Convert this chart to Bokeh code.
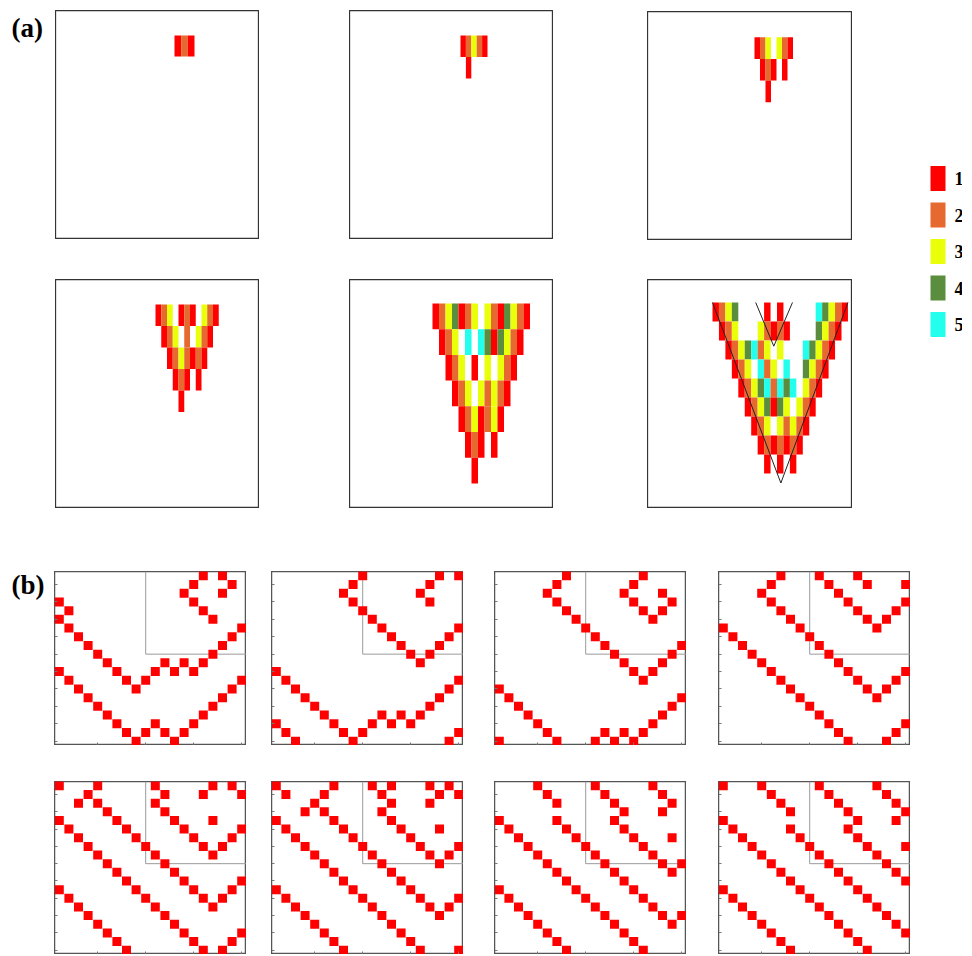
from bokeh.plotting import figure
from bokeh.models import Range1d, Spacer, FixedTicker
from bokeh.layouts import row, column
from bokeh.embed import file_html
from bokeh.resources import INLINE
from bokeh.core.properties import value

# ---------------- data ----------------
state_colors = ["#FF0000", "#E6692F", "#EAFF0A", "#5B8D3F", "#22FFEC"]
legend_labels = ["1", "2", "3", "4", "5"]

# (a) panels: row r starts at cell index r; 0 = empty
a1_rows = [[1, 2, 1]]
a2_rows = [[1, 2, 3, 2, 1], [1, 0, 0]]
a3_rows = [[1, 2, 3, 0, 3, 2, 1], [1, 2, 1, 0, 1], [1, 0, 0]]
a4_rows = [[1, 2, 3, 0, 1, 2, 1, 0, 3, 2, 1],
           [1, 2, 3, 0, 2, 0, 3, 2, 1],
           [1, 2, 3, 2, 1, 2, 1],
           [1, 2, 1, 0, 1],
           [1, 0, 0]]
a5_rows = [[1, 2, 3, 4, 1, 2, 3, 0, 3, 2, 1, 4, 3, 2, 1],
           [1, 2, 3, 0, 5, 0, 5, 4, 1, 4, 3, 2, 1],
           [1, 2, 3, 0, 1, 0, 3, 0, 3, 2, 1],
           [1, 2, 3, 0, 3, 2, 3, 2, 1],
           [1, 2, 3, 1, 2, 3, 1],
           [1, 2, 1, 0, 1],
           [1, 0, 0]]
a6_rows = [[1, 2, 3, 4, 0, 0, 0, 0, 1, 0, 1, 0, 0, 0, 0, 0, 5, 4, 3, 2, 1],
           [1, 2, 3, 0, 0, 0, 3, 2, 1, 2, 1, 0, 0, 0, 0, 4, 3, 2, 1],
           [1, 2, 3, 4, 5, 2, 3, 0, 3, 0, 0, 0, 5, 4, 3, 2, 1],
           [1, 2, 3, 0, 5, 2, 3, 0, 5, 0, 0, 4, 3, 2, 1],
           [1, 2, 3, 4, 5, 2, 5, 4, 5, 0, 3, 2, 1],
           [1, 2, 3, 4, 1, 4, 3, 0, 3, 2, 1],
           [1, 2, 3, 0, 3, 2, 3, 2, 1],
           [1, 2, 1, 2, 1, 2, 1],
           [1, 0, 1, 0, 1]]
# light-cone lines on the last (a) panel (cell units)
cone_big_x = [0.0, 10.6, 21.0]
cone_big_y = [0.0, 9.5, 0.0]
cone_small_x = [6.7, 9.5, 12.4]
cone_small_y = [0.0, 2.3, 0.0]

# (b) panels: occupied sites (column, row) on a 20 x 20 lattice
b1_sites = [(15,0),(17,0),(14,1),(18,1),(13,2),(17,2),(14,3),(15,4),(16,5),
            (0,3),(1,4),(0,5),(1,6),(2,7),(3,8),(4,9),(5,10),(6,11),(7,12),(8,13),(9,12),(10,11),
            (11,10),(12,11),(13,10),(14,11),(15,10),(16,9),(17,8),(18,7),(19,6),
            (0,11),(1,12),(2,13),(3,14),(4,15),(5,16),(6,17),(7,18),(8,19),(9,18),(10,17),(11,18),
            (12,19),(13,18),(14,17),(15,16),(16,15),(17,14),(18,13),(19,12)]
b2_sites = [(9,0),(17,0),(19,0),(8,1),(16,1),(7,2),(15,2),(8,3),(16,3),(9,4),(10,5),(11,6),(12,7),
            (13,8),(14,9),(15,10),(16,9),(17,8),(18,7),(19,6),
            (0,11),(1,12),(2,13),(3,14),(4,15),(5,16),(6,17),(7,18),(8,19),(9,18),(10,17),(11,16),
            (12,17),(13,16),(14,17),(15,16),(16,15),(17,14),(18,13),(19,12),
            (0,17),(1,18),(2,19),(18,19),(19,18)]
b3_sites = [(7,0),(15,0),(6,1),(14,1),(5,2),(13,2),(17,2),(6,3),(14,3),(18,3),(7,4),(15,4),(17,4),
            (8,5),(16,5),(9,6),(10,7),(11,8),(19,8),(12,9),(18,9),(13,10),(17,10),(14,11),(16,11),(15,12),
            (0,13),(1,14),(2,15),(3,16),(4,17),(5,18),(6,19),(0,19),
            (10,19),(11,18),(12,19),(13,18),(14,19),(15,18),(16,17),(17,16),(18,15),(19,14)]
b4_sites = [(6,0),(10,0),(14,0),(5,1),(11,1),(15,1),(19,1),(4,2),(12,2),(5,3),(13,3),(19,3),(6,4),
            (14,4),(18,4),(7,5),(15,5),(17,5),(8,6),(16,6),
            (0,6),(1,7),(2,8),(3,9),(4,10),(5,11),(6,12),(7,13),(8,14),(9,15),(10,16),(11,17),(12,18),(13,19),
            (9,7),(10,8),(11,9),(12,10),(13,11),(14,12),(15,13),(16,14),(17,13),(18,12),(19,11),
            (17,19),(18,18),(19,17)]
b5_sites = [(0,0),(4,0),(10,0),(16,0),(18,0),(3,1),(11,1),(15,1),(19,1),(2,2),(4,2),(10,2),(5,3),(11,3),
            (0,4),(6,4),(12,4),(16,4),(1,5),(7,5),(13,5),(19,5),(2,6),(8,6),(14,6),(18,6),(3,7),(9,7),
            (15,7),(17,7),(4,8),(10,8),(16,8),(5,9),(11,9),(6,10),(12,10),(7,11),(13,11),(19,11),(0,12),
            (8,12),(14,12),(18,12),(1,13),(9,13),(15,13),(17,13),(2,14),(10,14),(16,14),(3,15),(11,15),
            (4,16),(12,16),(5,17),(13,17),(19,17),(6,18),(14,18),(18,18),(7,19),(15,19),(17,19)]
b6_sites = [(0,0),(1,1),(5,1),(6,0),(10,0),(11,1),(12,0),(16,0),(17,1),(18,0),(19,1),(4,2),(12,2),
            (16,2),(3,3),(5,3),(11,3),(6,4),(12,4),(0,4),(1,5),(7,5),(13,5),(17,5),(2,6),(8,6),(14,6),
            (3,7),(9,7),(15,7),(19,7),(4,8),(10,8),(16,8),(18,8),(5,9),(11,9),(17,9),(6,10),(12,10),
            (7,11),(13,11),(8,12),(14,12),(0,12),(1,13),(9,13),(15,13),(19,13),(2,14),(10,14),(16,14),
            (18,14),(3,15),(11,15),(17,15),(4,16),(12,16),(5,17),(13,17),(6,18),(14,18),(7,19),(15,19),
            (19,19)]
b7_sites = [(4,0),(5,1),(6,2),(10,0),(11,1),(12,2),(16,0),(17,1),(18,2),
            (13,3),(17,3),(6,4),(12,4),(7,5),(13,5),(0,4),(1,5),(2,6),(8,6),(14,6),(18,6),
            (3,7),(9,7),(15,7),(4,8),(10,8),(16,8),(5,9),(11,9),(17,9),(19,9),(6,10),(12,10),(18,10),
            (7,11),(13,11),(8,12),(14,12),(9,13),(15,13),(0,12),(1,13),(2,14),(10,14),(16,14),(3,15),
            (11,15),(17,15),(19,15),(4,16),(12,16),(18,16),(5,17),(13,17),(6,18),(14,18),(7,19),(15,19)]
b8_sites = [(0,0),(4,0),(5,1),(6,2),(7,3),(10,0),(11,1),(12,2),(13,3),(16,0),(17,1),
            (18,2),(19,3),(14,4),(18,4),(7,5),(13,5),(8,6),(14,6),(0,4),(1,5),
            (2,6),(3,7),(9,7),(15,7),(19,7),(4,8),(10,8),(16,8),(5,9),(11,9),(17,9),(6,10),(12,10),(18,10),
            (7,11),(13,11),(19,11),(8,12),(14,12),(9,13),(15,13),(10,14),(16,14),(0,12),(1,13),(2,14),
            (3,15),(11,15),(17,15),(4,16),(12,16),(18,16),(5,17),(13,17),(19,17),(6,18),(14,18),(7,19),
            (15,19)]
zoom_box_x = [10, 10, 20.5]
zoom_box_y = [0.5, 10, 10]
b_xticks = [5, 10, 15, 20]
b_yticks = [2, 4, 6, 8, 10, 12, 14, 16, 18, 20]

SERIF = value("Liberation Serif")


def base_fig(w, h, xr, yr):
    p = figure(width=w, height=h, x_range=xr, y_range=yr, output_backend="svg",
               toolbar_location=None, min_border=0, background_fill_color="white",
               border_fill_color="white")
    p.grid.visible = False
    return p


def panel_a(rows, fx, fy, fw, fh, px, py, cw, rh, cones=False):
    x0 = -(px - fx) / cw
    yt = -(py - fy) / rh
    p = base_fig(fw, fh, Range1d(x0, x0 + fw / cw), Range1d(yt + fh / rh, yt))
    p.axis.visible = False
    p.outline_line_color = "#333333"
    p.outline_line_width = 1.3
    xs, ys, cs = [], [], []
    for r, vals in enumerate(rows):
        for k, v in enumerate(vals):
            if v:
                xs.append(r + k + 0.5)
                ys.append(r + 0.5)
                cs.append(state_colors[v - 1])
    p.rect(x=xs, y=ys, width=1, height=1, fill_color=cs, line_color=None)
    if cones:
        p.line(cone_big_x, cone_big_y, line_color="#222222", line_width=1)
        p.line(cone_small_x, cone_small_y, line_color="#222222", line_width=1)
    return p


def panel_b(sites, w, h):
    p = base_fig(w, h, Range1d(0.5, 20.5), Range1d(20.5, 0.5))
    p.outline_line_color = "#555555"
    p.outline_line_width = 1.5
    p.xaxis.ticker = FixedTicker(ticks=b_xticks)
    p.yaxis.ticker = FixedTicker(ticks=b_yticks)
    p.xaxis.fixed_location = 20.5
    p.yaxis.fixed_location = 0.5
    for ax in (p.xaxis, p.yaxis):
        ax.axis_line_color = None
        ax.major_tick_in = 3
        ax.major_tick_out = 0
        ax.minor_tick_in = 0
        ax.minor_tick_out = 0
        ax.major_tick_line_color = "#777777"
        ax.major_label_text_font_size = "0px"
        ax.major_label_text_alpha = 0
    p.line(zoom_box_x, zoom_box_y, line_color="#9a9a9a", line_width=1)
    p.scatter([c + 1 for c, r in sites], [r + 1 for c, r in sites], marker="square",
              size=9, fill_color="#FF0000", line_color=None)
    return p


def label_fig(txt, w, h, size):
    p = base_fig(w, h, Range1d(0, w), Range1d(h, 0))
    p.axis.visible = False
    p.outline_line_color = None
    p.text(x=[3], y=[h / 2], text=[txt], text_font=SERIF, text_font_style="bold",
           text_font_size=size, text_baseline="middle", text_align="left", text_color="black")
    return p


def legend_fig(w, h, top_off, pitch):
    yt = -top_off / pitch
    p = base_fig(w, h, Range1d(0, w), Range1d(yt + h / pitch, yt))
    p.axis.visible = False
    p.outline_line_color = None
    idx = list(range(len(legend_labels)))
    p.rect(x=[17.5] * len(idx), y=idx, width=15, height=25 / pitch,
           fill_color=state_colors, line_color=None)
    p.text(x=[34] * len(idx), y=idx, text=legend_labels, text_font=SERIF,
           text_font_style="bold", text_font_size="18px", text_baseline="middle",
           text_align="left", text_color="black")
    return p


# ---------------- layout helpers (image pixel coords) ----------------
ORIGIN = 0


def build_band(cols, top, bottom):
    children = []
    cur_x = ORIGIN
    for x, w, stack in sorted(cols, key=lambda c: c[0]):
        if x > cur_x:
            children.append(Spacer(width=x - cur_x, height=bottom - top))
        items = []
        cur_y = top
        for y, f in stack:
            if y > cur_y:
                items.append(Spacer(width=w, height=y - cur_y))
            items.append(f)
            cur_y = y + f.height
        if bottom > cur_y:
            items.append(Spacer(width=w, height=bottom - cur_y))
        children.append(column(*items, spacing=0))
        cur_x = x + w
    return row(*children, spacing=0)


# (a) panels: frame x, y, w, h, pattern left, pattern top, cell width, row height
pa1 = panel_a(a1_rows, 55, 10, 204, 229, 174, 35, 6.67, 21.0)
pa2 = panel_a(a2_rows, 349, 10, 204, 229, 460, 35, 5.4, 21.5)
pa3 = panel_a(a3_rows, 647, 11, 205, 229, 754, 36.7, 5.5, 21.7)
pa4 = panel_a(a4_rows, 55, 279, 204, 229, 155, 304, 5.75, 21.5)
pa5 = panel_a(a5_rows, 349, 279, 204, 229, 432, 303, 6.5, 25.7)
pa6 = panel_a(a6_rows, 647, 279, 205, 229, 712, 302, 6.45, 19.0, cones=True)

lab_a = label_fig("(a)", 45, 34, "27px")
lab_b = label_fig("(b)", 45, 34, "27px")
leg = legend_fig(42, 190, 23, 36.5)

band_a = build_band([
    (8, 45, [(10, lab_a)]),
    (55, 204, [(10, pa1), (279, pa4)]),
    (349, 204, [(10, pa2), (279, pa5)]),
    (647, 205, [(11, pa3), (279, pa6)]),
    (920, 42, [(155, leg)]),
], ORIGIN, 510)

bw, bh1, bh2 = 192, 174, 173
b_figs_top = [panel_b(s, bw, bh1) for s in (b1_sites, b2_sites, b3_sites, b4_sites)]
b_figs_bot = [panel_b(s, bw, bh2) for s in (b5_sites, b6_sites, b7_sites, b8_sites)]
band_b = build_band([
    (8, 45, [(567, lab_b)]),
    (54, bw, [(571, b_figs_top[0]), (781, b_figs_bot[0])]),
    (271, bw, [(571, b_figs_top[1]), (781, b_figs_bot[1])]),
    (494, bw, [(571, b_figs_top[2]), (781, b_figs_bot[2])]),
    (718, bw, [(571, b_figs_top[3]), (781, b_figs_bot[3])]),
], 510, 954)

page = column(band_a, band_b, spacing=0)
open("out.html", "w").write(file_html(page, INLINE))
